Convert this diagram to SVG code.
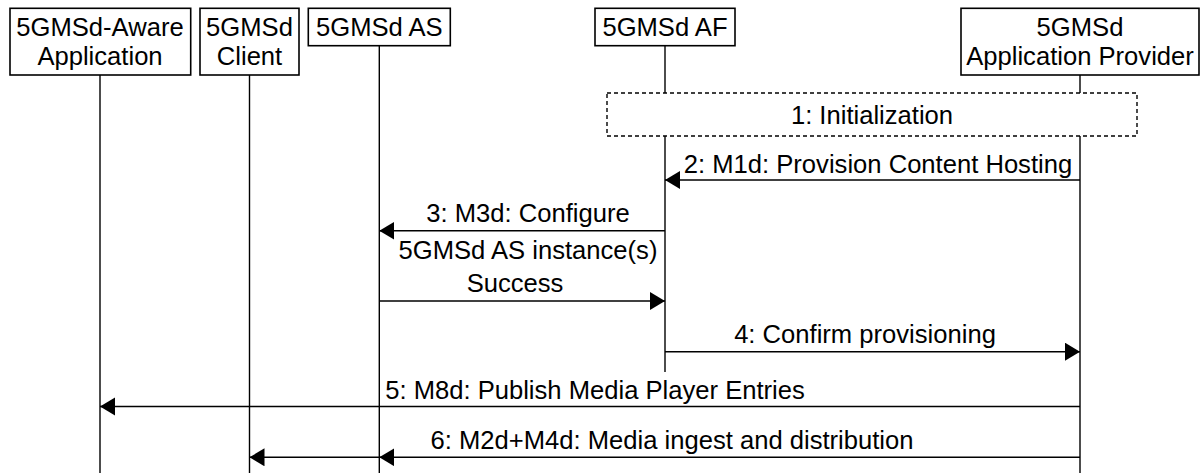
<svg xmlns="http://www.w3.org/2000/svg" width="1200" height="473" viewBox="0 0 1200 473">
<style>
text{font-family:"Liberation Sans",Arial,sans-serif;font-size:25.6px;fill:#000;text-anchor:middle}
.box{fill:#fff;stroke:#000;stroke-width:1.6}
.life{stroke:#000;stroke-width:1.4;fill:none}
.msg{stroke:#000;stroke-width:1.4;fill:none;marker-end:url(#ah)}
.dash{fill:#fff;stroke:#000;stroke-width:1.4;stroke-dasharray:4 3}
</style>
<defs>
<marker id="ah" markerUnits="userSpaceOnUse" markerWidth="16" markerHeight="20" refX="15" refY="9" orient="auto">
<path d="M0,0 L15,9 L0,18 z" fill="#000"/>
</marker>
</defs>
<g id="lifelines">
<line class="life" x1="100" y1="75" x2="100" y2="473"/>
<line class="life" x1="249.5" y1="75" x2="249.5" y2="473"/>
<line class="life" x1="379.3" y1="46" x2="379.3" y2="473"/>
<line class="life" x1="665" y1="46" x2="665" y2="372"/>
<line class="life" x1="1080" y1="75" x2="1080" y2="473"/>
</g>
<g id="app">
<rect class="box" x="10" y="8.3" width="180.7" height="66.7"/>
<text x="100" y="36">5GMSd-Aware</text>
<text x="100" y="65">Application</text>
</g>
<g id="client">
<rect class="box" x="200" y="8.3" width="99" height="66.7"/>
<text x="249.5" y="36">5GMSd</text>
<text x="249.5" y="65">Client</text>
</g>
<g id="as">
<rect class="box" x="308.3" y="8.3" width="142" height="37.4"/>
<text x="379.3" y="36">5GMSd AS</text>
</g>
<g id="af">
<rect class="box" x="595" y="8.3" width="140" height="37.4"/>
<text x="665" y="36">5GMSd AF</text>
</g>
<g id="ap">
<rect class="box" x="961" y="8.3" width="238" height="66.7"/>
<text x="1080" y="36">5GMSd</text>
<text x="1080" y="65">Application Provider</text>
</g>
<g id="init">
<rect class="dash" x="607" y="93" width="530" height="43"/>
<text x="872" y="123.5">1: Initialization</text>
</g>
<g id="connectors">
<line class="msg" x1="1080" y1="180" x2="665" y2="180"/>
<text x="878" y="172.7">2: M1d: Provision Content Hosting</text>
<line class="msg" x1="665" y1="230.7" x2="379.3" y2="230.7"/>
<text x="528" y="222">3: M3d: Configure</text>
<text x="528" y="258.5">5GMSd AS instance(s)</text>
<line class="msg" x1="379.3" y1="301" x2="665" y2="301"/>
<text x="515" y="292">Success</text>
<line class="msg" x1="665" y1="351.7" x2="1080" y2="351.7"/>
<text x="865" y="343">4: Confirm provisioning</text>
<line class="msg" x1="1080" y1="406.5" x2="100" y2="406.5"/>
<text x="595" y="399">5: M8d: Publish Media Player Entries</text>
<line class="msg" x1="1080" y1="457.3" x2="379.3" y2="457.3"/>
<line class="msg" x1="379.3" y1="457.3" x2="249.5" y2="457.3"/>
<text x="672" y="449">6: M2d+M4d: Media ingest and distribution</text>
</g>
</svg>
